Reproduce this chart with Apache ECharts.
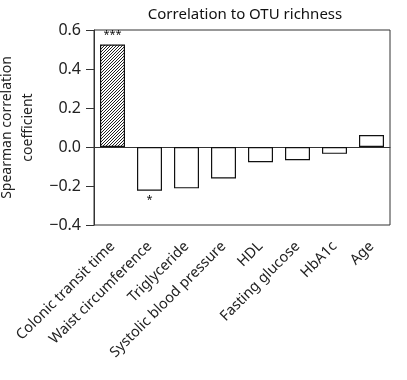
<!DOCTYPE html>
<html>
<head>
<meta charset="utf-8">
<script src="https://cdn.jsdelivr.net/npm/echarts@6/dist/echarts.min.js"></script>
<style>html,body{margin:0;padding:0;background:#fff}#c{width:407px;height:380px}</style>
</head>
<body>
<div id="c"></div>
<script>
const categories = ['Colonic transit time','Waist circumference','Triglyceride','Systolic blood pressure','HDL','Fasting glucose','HbA1c','Age'];
const values = [0.526, -0.224, -0.212, -0.161, -0.078, -0.068, -0.035, 0.061];
const significance = ['***','*','','','','','',''];
const yTicks = [-0.4, -0.2, 0.0, 0.2, 0.4, 0.6];

const pc = document.createElement('canvas');
pc.width = 3; pc.height = 3;
const g = pc.getContext('2d');
g.fillStyle = '#fff'; g.fillRect(0,0,3,3);
g.strokeStyle = '#222'; g.lineWidth = 1;
g.beginPath();
g.moveTo(-1,4); g.lineTo(4,-1);
g.stroke();

const FONT = 'Noto Sans';
const chart = echarts.init(document.getElementById('c'), null, {renderer:'canvas'});
chart.setOption({
  animation:false,
  backgroundColor:'#fff',
  textStyle:{fontFamily:FONT},
  title:{text:'Correlation to OTU richness', left:240, top:2, textAlign:'center',
    textStyle:{fontFamily:FONT, fontSize:15, fontWeight:'normal', color:'#111'}},
  grid:{left:94, right:17, top:30, bottom:155, show:true, borderColor:'#333', borderWidth:1,
    containLabel:false, outerBoundsMode:'none'},
  xAxis:{type:'category', data:categories,
    axisLine:{onZero:true, lineStyle:{color:'#333', width:1}},
    axisTick:{show:false},
    axisLabel:{rotate:45, interval:0, margin:19, fontSize:14.5, color:'#222', fontFamily:FONT}},
  yAxis:{type:'value', min:yTicks[0], max:yTicks[yTicks.length-1], interval:0.2,
    name:'Spearman correlation\ncoefficient', nameLocation:'middle', nameRotate:90, nameGap:49,
    nameTextStyle:{fontSize:14, color:'#222', fontFamily:FONT, lineHeight:21},
    splitLine:{show:false},
    axisLine:{show:true, lineStyle:{color:'#333', width:1}},
    axisTick:{show:true, length:8, lineStyle:{color:'#333'}},
    axisLabel:{fontSize:16, color:'#222', margin:13, fontFamily:FONT,
      formatter:function(v){return v.toFixed(1).replace('-','\u2212');}}},
  series:[{type:'bar', barWidth:25,
    data: values.map(function(v,i){
      return {value:v,
        itemStyle: i===0 ? {color:{image:pc, repeat:'repeat'}, borderColor:'#111', borderWidth:1.2}
                         : {color:'#fff', borderColor:'#111', borderWidth:1.2},
        label:{show: significance[i]!=='', formatter: significance[i],
          position: v>=0 ? 'top' : 'bottom', distance:4, fontSize:11, color:'#111'}};
    })
  }]
});
</script>
</body>
</html>
